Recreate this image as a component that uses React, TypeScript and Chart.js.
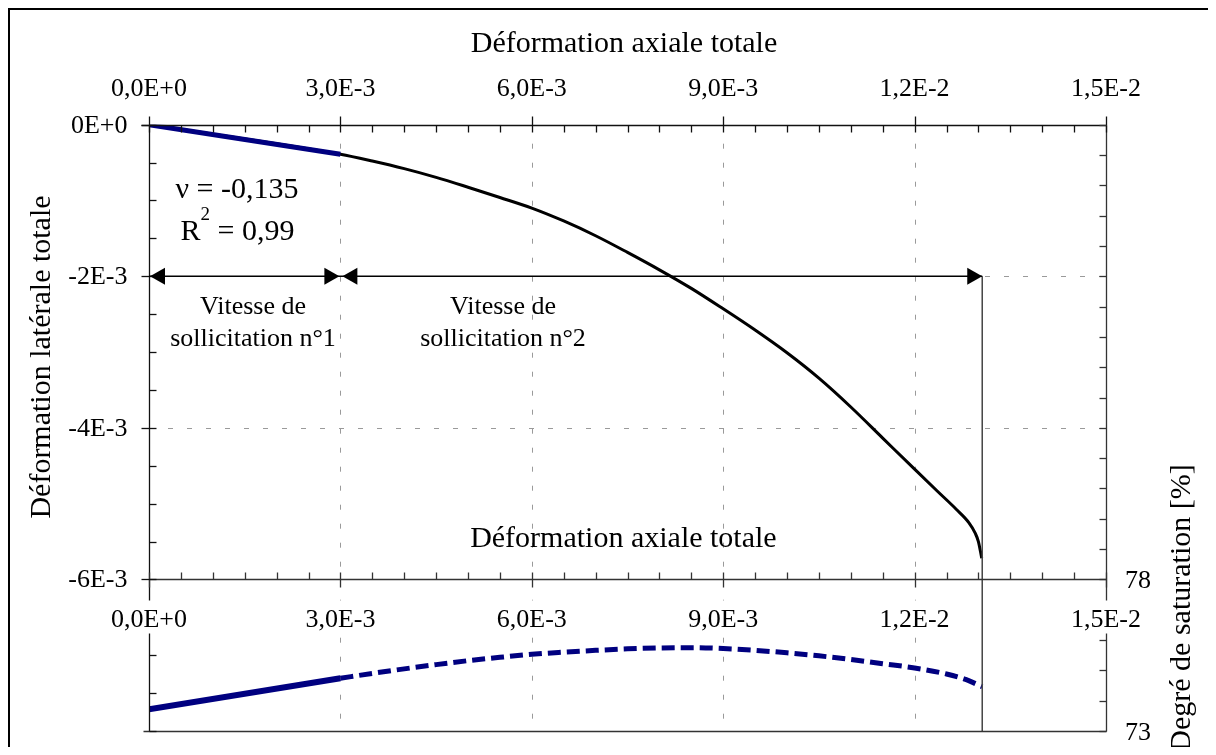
import React, { useEffect, useRef } from 'react';
import { Chart, registerables } from 'chart.js';

Chart.register(...registerables);

// ---- Data ----
// Lateral strain (black curve) vs total axial strain
const lateralAxial = [0, 3.0e-3, 3.5e-3, 4.0e-3, 4.5e-3, 5.0e-3, 5.5e-3, 6.0e-3, 6.5e-3, 7.0e-3, 7.5e-3, 8.0e-3, 8.5e-3, 9.0e-3, 9.5e-3, 10.0e-3, 10.5e-3, 11.0e-3, 11.5e-3, 12.0e-3, 12.35e-3, 12.66e-3, 12.85e-3, 12.95e-3, 13.0e-3, 13.052e-3];
const lateralStrain = [0, -0.39e-3, -0.48e-3, -0.58e-3, -0.695e-3, -0.825e-3, -0.96e-3, -1.1e-3, -1.27e-3, -1.465e-3, -1.685e-3, -1.915e-3, -2.16e-3, -2.43e-3, -2.71e-3, -3.01e-3, -3.345e-3, -3.725e-3, -4.135e-3, -4.545e-3, -4.83e-3, -5.08e-3, -5.25e-3, -5.39e-3, -5.5e-3, -5.72e-3];
// Linear fit segment (rate n°1)
const fitAxial = [0, 3.0e-3];
const fitLateral = [0, -0.39e-3];
// Degree of saturation
const satAxial1 = [0, 3.0e-3];
const satValues1 = [73.72, 74.74];
const satAxial2 = [3.0e-3, 3.5e-3, 4.0e-3, 4.5e-3, 5.0e-3, 5.5e-3, 6.0e-3, 6.5e-3, 7.0e-3, 7.5e-3, 8.0e-3, 8.5e-3, 9.0e-3, 9.5e-3, 10.0e-3, 10.5e-3, 11.0e-3, 11.5e-3, 12.0e-3, 12.5e-3, 12.8e-3, 13.06e-3];
const satValues2 = [74.74, 74.9, 75.05, 75.19, 75.32, 75.43, 75.53, 75.6, 75.66, 75.71, 75.74, 75.75, 75.72, 75.66, 75.58, 75.48, 75.36, 75.22, 75.08, 74.88, 74.7, 74.46];

// Axis ticks / labels
const xTickValues = [0, 3e-3, 6e-3, 9e-3, 12e-3, 15e-3];
const xTickLabels = ['0,0E+0', '3,0E-3', '6,0E-3', '9,0E-3', '1,2E-2', '1,5E-2'];
const yTickValues = [0, -2e-3, -4e-3, -6e-3];
const yTickLabels = ['0E+0', '-2E-3', '-4E-3', '-6E-3'];
const y2TickValues = [78, 73];
const y2TickLabels = ['78', '73'];
const gridXValues = [3e-3, 6e-3, 9e-3, 12e-3];
const gridYValues = [-2e-3, -4e-3];
const endAxial = 13.06e-3;
const arrowLevel = -2e-3;
const splitAxial = 3e-3;

const FONT = '"Liberation Serif", "Times New Roman", serif';
const NAVY = '#000080';

const pts = (xs: number[], ys: number[]) => xs.map((x, i) => ({ x, y: ys[i] }));

const overlayPlugin = {
  id: 'overlay',
  beforeDatasetsDraw(chart: any) {
    const { ctx, chartArea: a, scales } = chart;
    const sx = scales.x, sy = scales.y;
    ctx.save();
    ctx.strokeStyle = '#9a9a9a';
    ctx.lineWidth = 1;
    ctx.setLineDash([5, 14]);
    for (const v of gridXValues) {
      const p = Math.round(sx.getPixelForValue(v)) + 0.5;
      ctx.beginPath(); ctx.moveTo(p, a.top); ctx.lineTo(p, a.bottom); ctx.stroke();
    }
    for (const v of gridYValues) {
      const p = Math.round(sy.getPixelForValue(v)) + 0.5;
      ctx.beginPath(); ctx.moveTo(a.left, p); ctx.lineTo(a.right, p); ctx.stroke();
    }
    ctx.restore();
  },
  afterDatasetsDraw(chart: any) {
    const { ctx, chartArea: a, scales, width, height } = chart;
    const sx = scales.x, sy = scales.y, sy2 = scales.y2;
    const line = (x1: number, y1: number, x2: number, y2: number) => {
      ctx.beginPath(); ctx.moveTo(x1, y1); ctx.lineTo(x2, y2); ctx.stroke();
    };
    ctx.save();
    ctx.setLineDash([]);

    const L = Math.round(a.left) + 0.5;
    const R = Math.round(a.right) + 0.5;
    const yTop = Math.round(sy.getPixelForValue(0)) + 0.5;
    const yMid = Math.round(sy.getPixelForValue(-6e-3)) + 0.5;
    const yBot = Math.round(a.bottom) + 0.5;

    // vertical end line
    ctx.strokeStyle = '#444';
    ctx.lineWidth = 1.5;
    const xe = sx.getPixelForValue(endAxial);
    line(xe, sy.getPixelForValue(arrowLevel), xe, a.bottom);

    // axis lines
    ctx.strokeStyle = '#111';
    ctx.lineWidth = 1.3;
    line(L - 8, yTop, R, yTop);
    line(L, yTop, L, yBot);
    ctx.strokeStyle = '#333';
    line(R, yTop, R, yBot);
    line(L, yMid, R, yMid);
    line(L - 6, yBot, R, yBot);

    // x ticks (top and middle axes)
    for (let i = 0; i <= 30; i++) {
      const v = i * 0.5e-3;
      const p = Math.round(sx.getPixelForValue(v)) + 0.5;
      const major = i % 6 === 0;
      ctx.strokeStyle = '#111';
      line(p, major ? yTop - 9 : yTop, p, yTop + 7);
      ctx.strokeStyle = '#333';
      line(p, yMid - 7, p, major ? yMid + 8 : yMid);
    }
    // left y ticks
    for (let i = 0; i <= 16; i++) {
      const v = -i * 0.5e-3;
      const p = Math.round(sy.getPixelForValue(v)) + 0.5;
      const major = i % 4 === 0 && i <= 12;
      ctx.strokeStyle = '#111';
      line(major ? L - 8 : L, p, L + 7, p);
    }
    // right y2 ticks
    for (let v = 73; v <= 93; v++) {
      const p = Math.round(sy2.getPixelForValue(v)) + 0.5;
      ctx.strokeStyle = '#333';
      line(R - 7, p, R, p);
    }

    // tick labels
    ctx.fillStyle = '#000';
    ctx.font = `26px ${FONT}`;
    ctx.textAlign = 'center';
    ctx.textBaseline = 'alphabetic';
    xTickValues.forEach((v, i) => {
      const p = sx.getPixelForValue(v);
      ctx.fillText(xTickLabels[i], p, yTop - 29.5);
      const w = ctx.measureText(xTickLabels[i]).width;
      ctx.fillStyle = '#fff';
      ctx.fillRect(p - w / 2 - 2, yMid + 21, w + 4, 33);
      ctx.fillStyle = '#000';
      ctx.fillText(xTickLabels[i], p, yMid + 47);
    });
    ctx.textAlign = 'right';
    yTickValues.forEach((v, i) => {
      ctx.fillText(yTickLabels[i], a.left - 21.5, sy.getPixelForValue(v) + 8);
    });
    ctx.textAlign = 'left';
    y2TickValues.forEach((v, i) => {
      ctx.fillText(y2TickLabels[i], a.right + 19, sy2.getPixelForValue(v) + 8.5);
    });

    // arrows
    const ya = sy.getPixelForValue(arrowLevel);
    const x0 = sx.getPixelForValue(0);
    const x1 = sx.getPixelForValue(splitAxial);
    ctx.strokeStyle = '#000';
    ctx.lineWidth = 1.4;
    line(x0, ya, xe, ya);
    const head = (tip: number, dir: number) => {
      ctx.beginPath();
      ctx.moveTo(tip, ya);
      ctx.lineTo(tip - dir * 15, ya - 8.5);
      ctx.lineTo(tip - dir * 15, ya + 8.5);
      ctx.closePath();
      ctx.fill();
    };
    ctx.fillStyle = '#000';
    head(x0 + 1, -1);
    head(x1 - 1, 1);
    head(x1 + 2, -1);
    head(xe, 1);

    // annotation texts
    ctx.textAlign = 'center';
    ctx.font = `26px ${FONT}`;
    ctx.fillText('Vitesse de', 245, 305.5);
    ctx.fillText('sollicitation n°1', 245, 338);
    ctx.fillText('Vitesse de', 495, 305.5);
    ctx.fillText('sollicitation n°2', 495, 338);
    ctx.font = `30px ${FONT}`;
    ctx.fillText('\u03bd = -0,135', 229, 190);

    // R² = 0,99
    const big = `30px ${FONT}`, small = `19px ${FONT}`;
    ctx.font = big; const wR = ctx.measureText('R').width;
    const wRest = ctx.measureText(' = 0,99').width;
    ctx.font = small; const w2 = ctx.measureText('2').width;
    let sxp = 229.5 - (wR + w2 + wRest) / 2;
    ctx.textAlign = 'left';
    ctx.font = big; ctx.fillText('R', sxp, 232); sxp += wR;
    ctx.font = small; ctx.fillText('2', sxp, 212); sxp += w2;
    ctx.font = big; ctx.fillText(' = 0,99', sxp, 232);

    // axis titles
    ctx.font = `30px ${FONT}`;
    ctx.textAlign = 'center';
    ctx.fillText('Déformation axiale totale', 616, 43.7);
    ctx.fillText('Déformation axiale totale', 615.4, 538.7);

    ctx.save();
    ctx.translate(42, 349);
    ctx.rotate(-Math.PI / 2);
    ctx.fillText('Déformation latérale totale', 0, 0);
    ctx.restore();

    ctx.save();
    ctx.translate(1182, 600);
    ctx.rotate(-Math.PI / 2);
    ctx.fillText('Degré de saturation [%]', 0, 0);
    ctx.restore();

    // outer frame
    ctx.strokeStyle = '#000';
    ctx.lineWidth = 2;
    line(0, 1, width, 1);
    line(1, 0, 1, height);

    ctx.restore();
  },
};

export default function App() {
  const ref = useRef<HTMLCanvasElement | null>(null);
  useEffect(() => {
    if (!ref.current) return;
    const chart = new Chart(ref.current, {
      type: 'scatter',
      data: {
        datasets: [
          {
            label: 'Déformation latérale',
            data: pts(lateralAxial, lateralStrain),
            showLine: true,
            borderColor: '#000',
            borderWidth: 3,
            pointRadius: 0,
            cubicInterpolationMode: 'monotone',
            yAxisID: 'y',
            order: 3,
          },
          {
            label: 'Régression',
            data: pts(fitAxial, fitLateral),
            showLine: true,
            borderColor: NAVY,
            borderWidth: 5,
            pointRadius: 0,
            yAxisID: 'y',
            order: 2,
          },
          {
            label: 'Degré de saturation 1',
            data: pts(satAxial1, satValues1),
            showLine: true,
            borderColor: NAVY,
            borderWidth: 6,
            pointRadius: 0,
            yAxisID: 'y2',
            order: 1,
          },
          {
            label: 'Degré de saturation 2',
            data: pts(satAxial2, satValues2),
            showLine: true,
            borderColor: NAVY,
            borderWidth: 5,
            borderDash: [13, 6],
            borderCapStyle: 'butt',
            pointRadius: 0,
            cubicInterpolationMode: 'monotone',
            yAxisID: 'y2',
            order: 1,
          },
        ],
      } as any,
      options: {
        responsive: false,
        animation: false,
        devicePixelRatio: 1,
        layout: { padding: { left: 141, right: 102, top: 116.7, bottom: 16 } },
        plugins: { legend: { display: false }, tooltip: { enabled: false }, title: { display: false } },
        events: [],
        scales: {
          x: { type: 'linear', min: 0, max: 0.015, display: false },
          y: { type: 'linear', min: -0.008, max: 0, display: false },
          y2: { type: 'linear', min: 73, max: 93, display: false, position: 'right' },
        },
      } as any,
      plugins: [overlayPlugin],
    });
    return () => chart.destroy();
  }, []);
  return (
    <div style={{ width: 1200, height: 739, background: '#fff' }}>
      <canvas ref={ref} width={1200} height={739} style={{ display: 'block' }} />
    </div>
  );
}
